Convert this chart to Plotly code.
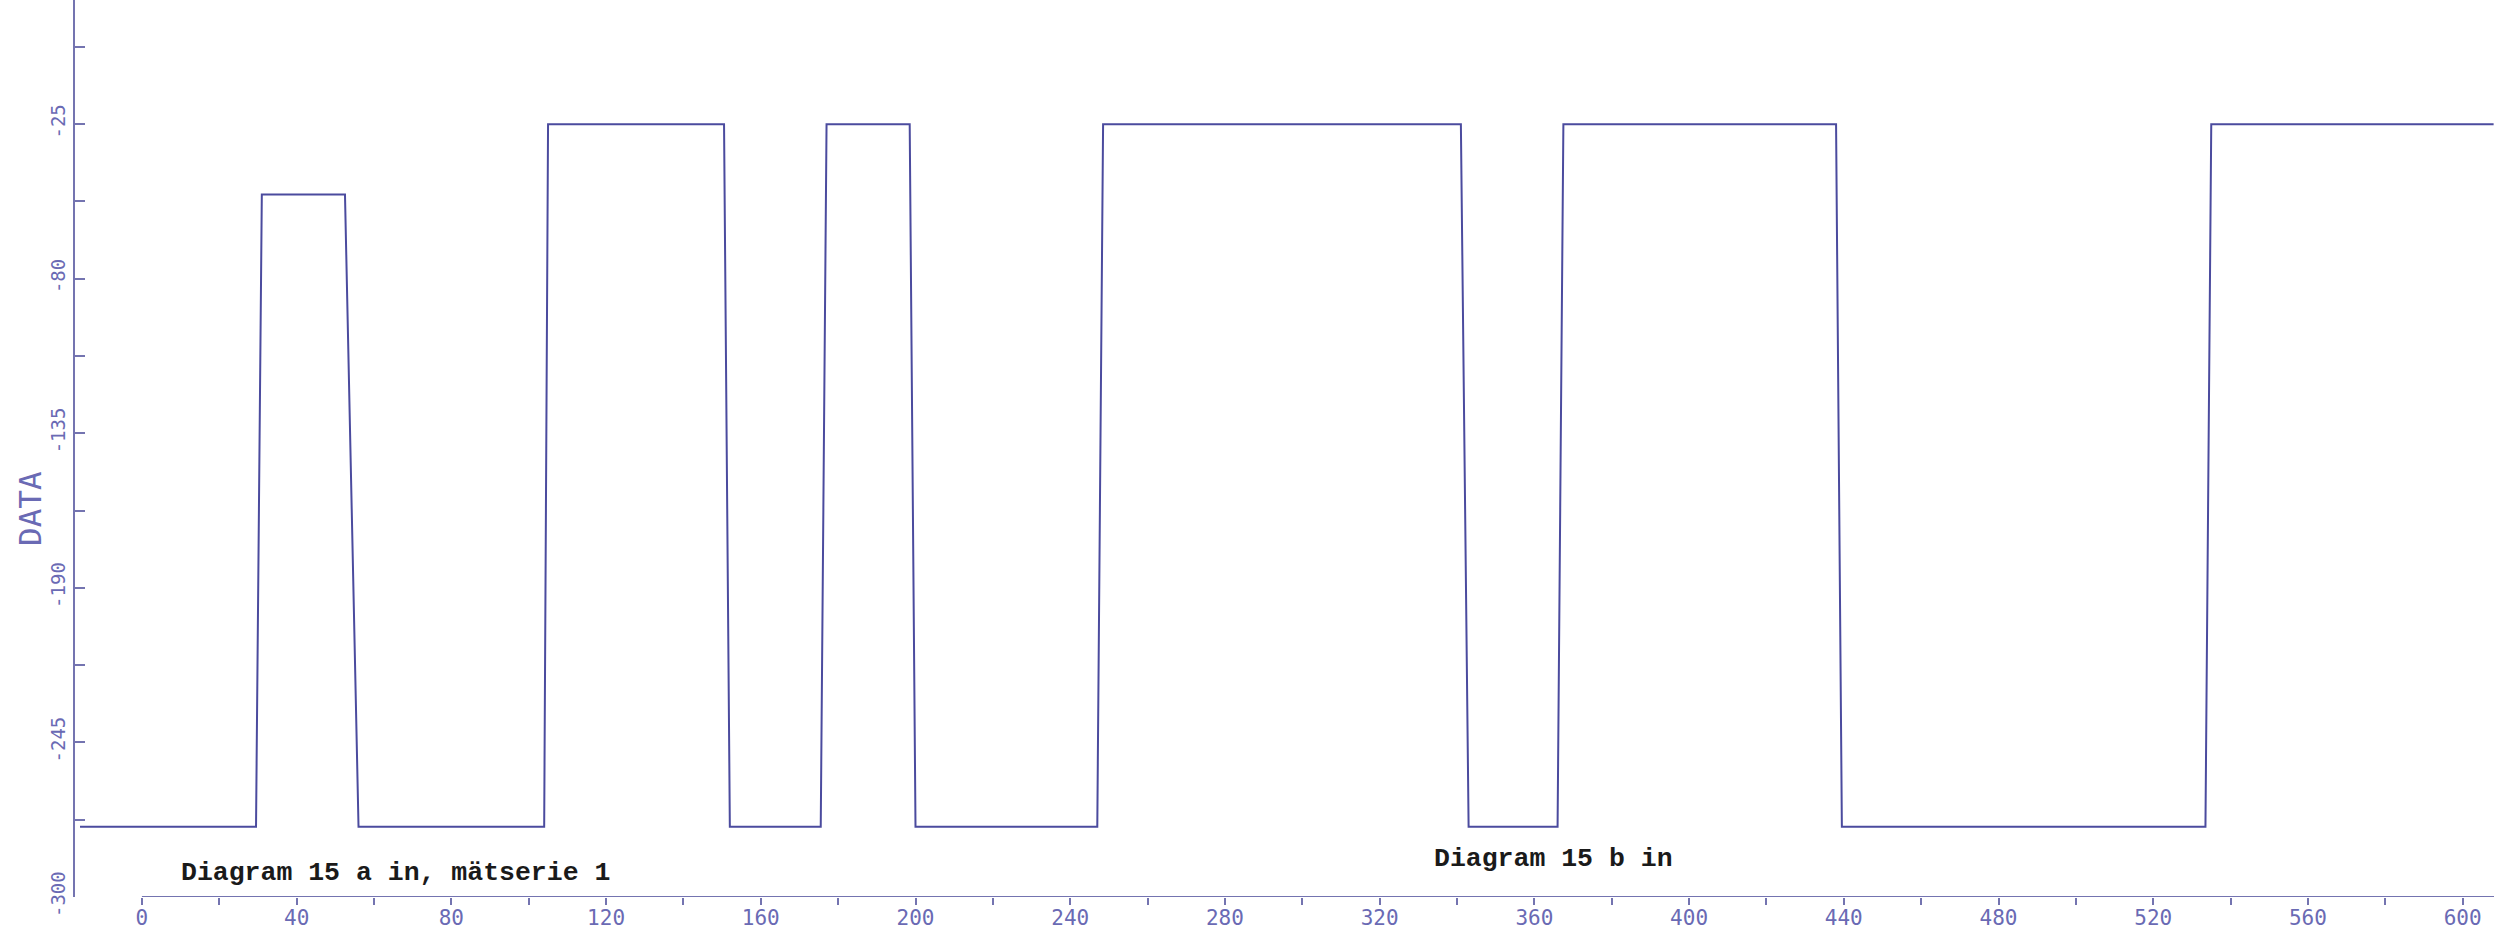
import plotly.graph_objects as go

# Data (step signal with slightly slanted edges)
x_vals = [-16, 29.5, 31, 52.5, 56, 104, 105, 150.5, 152, 175.5, 177, 198.5, 200,
          247, 248.5, 341, 343, 366, 367.5, 438, 439.5, 533.5, 535, 608]
y_vals = [-275, -275, -50, -50, -275, -275, -25, -25, -275, -275, -25, -25, -275,
          -275, -25, -25, -275, -275, -25, -25, -275, -275, -25, -25]

x_tick_vals = [0, 40, 80, 120, 160, 200, 240, 280, 320, 360, 400, 440, 480, 520, 560, 600]
x_tick_text = ["0", "40", "80", "120", "160", "200", "240", "280", "320", "360",
               "400", "440", "480", "520", "560", "600"]
y_tick_vals = [-300, -245, -190, -135, -80, -25]
y_tick_text = ["-300", "-245", "-190", "-135", "-80", "-25"]

line_color = "#4b4b9e"
axis_color = "#7474b0"
label_color = "#6a6ab4"

fig = go.Figure()
fig.add_trace(go.Scatter(x=x_vals, y=y_vals, mode="lines",
                         line=dict(color=line_color, width=2), showlegend=False))

fig.update_layout(
    width=2494, height=943,
    margin=dict(l=75, r=0, t=0, b=46),
    paper_bgcolor="white", plot_bgcolor="white",
    xaxis=dict(range=[-17.3, 608.1], showgrid=False, zeroline=False, showline=False,
               tickmode="array", tickvals=x_tick_vals, ticktext=x_tick_text,
               ticks="outside", ticklen=7, tickwidth=2, tickcolor=axis_color,
               ticklabelstandoff=-5,
               tickfont=dict(family="DejaVu Sans Mono", size=21, color=label_color),
               minor=dict(tickmode="linear", tick0=0, dtick=20, ticks="outside",
                          ticklen=7, tickwidth=2, tickcolor=axis_color)),
    yaxis=dict(range=[-300, 19.2], showgrid=False, zeroline=False, showline=True,
               linecolor=axis_color, linewidth=2,
               tickmode="array", tickvals=y_tick_vals, ticktext=y_tick_text,
               ticks="inside", ticklen=10, tickwidth=2, tickcolor=axis_color,
               tickangle=-90,
               tickfont=dict(family="DejaVu Sans Mono", size=19, color=label_color),
               minor=dict(tickmode="linear", tick0=-300, dtick=27.5, ticks="inside",
                          ticklen=10, tickwidth=2, tickcolor=axis_color)),
    annotations=[
        dict(x=-0.0186, y=0.4326, xref="paper", yref="paper", xanchor="center",
             yanchor="middle", text="DATA", textangle=-90, showarrow=False,
             font=dict(family="DejaVu Sans Mono", size=31, color=label_color)),
        dict(x=9.7, y=-291.5, xref="x", yref="y", xanchor="left", yanchor="middle",
             text="<b>Diagram 15 a in, mätserie 1</b>", showarrow=False,
             font=dict(family="Liberation Mono", size=26.5, color="#1a1a1a")),
        dict(x=333.5, y=-286.5, xref="x", yref="y", xanchor="left", yanchor="middle",
             text="<b>Diagram 15 b in</b>", showarrow=False,
             font=dict(family="Liberation Mono", size=26.5, color="#1a1a1a")),
    ],
)

# x-axis baseline, starting at x = 0 as on the original plotter output
fig.add_shape(type="line", xref="x", yref="y", x0=0, x1=608.1, y0=-300, y1=-300,
              line=dict(color=axis_color, width=2))

fig.write_html("out.html")
